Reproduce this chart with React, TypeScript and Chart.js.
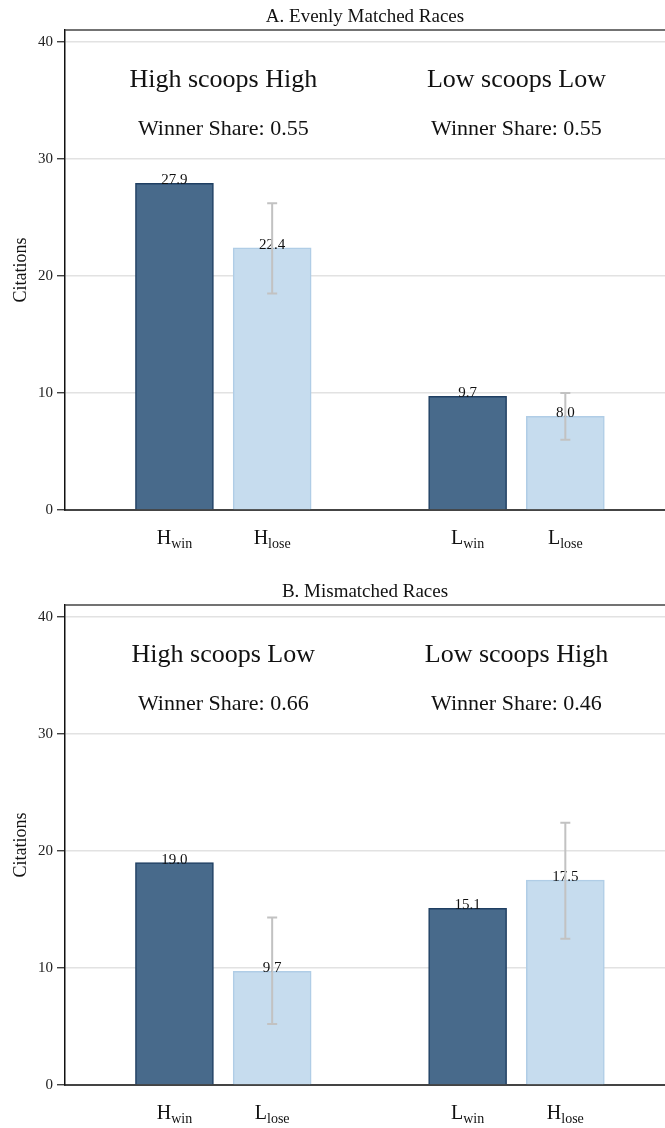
import React, { useEffect, useRef } from "react";
import { Chart, registerables } from "chart.js";

Chart.register(...registerables);

const FONT = '"Liberation Serif", "Times New Roman", Times, serif';

// Bar slots along the x axis: two bars per race type, with a gap between races
const barPositions = [1, 2, 4, 5];
const xMin = -0.12;
const xMax = 6.02;
const yMax = 41;
const yTicks = [0, 10, 20, 30, 40];
const barRoles = ["win", "lose", "win", "lose"];

// Panel A: evenly matched races
const panelATitle = "A. Evenly Matched Races";
const panelALabels = [["H", "win"], ["H", "lose"], ["L", "win"], ["L", "lose"]];
const panelAValues = [27.9, 22.4, 9.7, 8.0];
const panelALow = [null, 18.5, null, 6.0];
const panelAHigh = [null, 26.2, null, 10.0];
const panelAGroups = ["High scoops High", "Low scoops Low"];
const panelAShares = ["0.55", "0.55"];

// Panel B: mismatched races
const panelBTitle = "B. Mismatched Races";
const panelBLabels = [["H", "win"], ["L", "lose"], ["L", "win"], ["H", "lose"]];
const panelBValues = [19.0, 9.7, 15.1, 17.5];
const panelBLow = [null, 5.2, null, 12.5];
const panelBHigh = [null, 14.3, null, 22.4];
const panelBGroups = ["High scoops Low", "Low scoops High"];
const panelBShares = ["0.66", "0.46"];

const fillColors: Record<string, string> = { win: "#486a8b", lose: "#c6dcee" };
const edgeColors: Record<string, string> = { win: "#1f3f62", lose: "#b0cde6" };

type PanelProps = {
  title: string;
  labels: string[][];
  values: number[];
  low: (number | null)[];
  high: (number | null)[];
  groups: string[];
  shares: string[];
  height: number;
  axisHeight: number;
};

function makeOverlay(p: PanelProps) {
  return {
    id: "panelOverlay",
    afterDraw(chart: any) {
      const { ctx, chartArea } = chart;
      const xs = chart.scales.x;
      const ys = chart.scales.y;
      const { left, right, top, bottom } = chartArea;
      ctx.save();

      // panel title
      ctx.fillStyle = "#111";
      ctx.textAlign = "center";
      ctx.textBaseline = "alphabetic";
      ctx.font = `19px ${FONT}`;
      ctx.fillText(p.title, (left + right) / 2, top - 8);

      // top frame
      ctx.strokeStyle = "#444";
      ctx.lineWidth = 1.5;
      ctx.beginPath();
      ctx.moveTo(left, top);
      ctx.lineTo(right, top);
      ctx.stroke();

      // race headings and winner shares
      p.groups.forEach((g, gi) => {
        const cx = xs.getPixelForValue((barPositions[gi * 2] + barPositions[gi * 2 + 1]) / 2);
        ctx.fillStyle = "#111";
        ctx.font = `26px ${FONT}`;
        ctx.fillText(g, cx, top + 56.5);
        ctx.font = `22px ${FONT}`;
        ctx.fillText(`Winner Share: ${p.shares[gi]}`, cx, top + 104.5);
      });

      // value labels on top of bars
      ctx.font = `15px ${FONT}`;
      ctx.fillStyle = "#111";
      p.values.forEach((v, i) => {
        const x = xs.getPixelForValue(barPositions[i]);
        const y = ys.getPixelForValue(v);
        ctx.fillText(v.toFixed(1), x, y + 1);
      });

      // confidence intervals for the losing bars
      ctx.strokeStyle = "#c2c2c2";
      ctx.lineWidth = 2;
      p.values.forEach((_, i) => {
        const lo = p.low[i];
        const hi = p.high[i];
        if (lo == null || hi == null) return;
        const x = xs.getPixelForValue(barPositions[i]);
        const yl = ys.getPixelForValue(lo);
        const yh = ys.getPixelForValue(hi);
        ctx.beginPath();
        ctx.moveTo(x, yl);
        ctx.lineTo(x, yh);
        ctx.moveTo(x - 5, yl);
        ctx.lineTo(x + 5, yl);
        ctx.moveTo(x - 5, yh);
        ctx.lineTo(x + 5, yh);
        ctx.stroke();
      });

      // category labels with subscripts
      ctx.fillStyle = "#111";
      ctx.textAlign = "left";
      p.labels.forEach(([main, sub], i) => {
        const cx = xs.getPixelForValue(barPositions[i]);
        ctx.font = `20px ${FONT}`;
        const wm = ctx.measureText(main).width;
        ctx.font = `14px ${FONT}`;
        const ws = ctx.measureText(sub).width;
        const x0 = cx - (wm + ws) / 2;
        ctx.font = `20px ${FONT}`;
        ctx.fillText(main, x0, bottom + 34);
        ctx.font = `14px ${FONT}`;
        ctx.fillText(sub, x0 + wm, bottom + 38);
      });

      ctx.restore();
    },
  };
}

function Panel(p: PanelProps) {
  const ref = useRef<HTMLCanvasElement | null>(null);

  useEffect(() => {
    if (!ref.current) return;
    const chart = new Chart(ref.current, {
      type: "bar",
      data: {
        datasets: [
          {
            data: barPositions.map((x, i) => ({ x, y: p.values[i] })),
            backgroundColor: barRoles.map((r) => fillColors[r]),
            borderColor: barRoles.map((r) => edgeColors[r]),
            borderWidth: 1.5,
            barThickness: 78,
          },
        ],
      },
      options: {
        responsive: false,
        animation: false,
        devicePixelRatio: 1,
        layout: { padding: { top: 30, right: 0, left: 0, bottom: 0 } },
        plugins: {
          legend: { display: false },
          tooltip: { enabled: false },
          title: { display: false },
        },
        scales: {
          x: {
            type: "linear",
            min: xMin,
            max: xMax,
            offset: false,
            afterFit: (s: any) => {
              s.height = p.axisHeight;
            },
            ticks: { display: false },
            grid: { display: false, offset: false },
            border: { display: true, color: "#444", width: 2 },
          },
          y: {
            min: 0,
            max: yMax,
            afterFit: (s: any) => {
              s.width = 65;
            },
            afterBuildTicks: (s: any) => {
              s.ticks = yTicks.map((v) => ({ value: v }));
            },
            ticks: {
              font: { family: FONT, size: 15 },
              color: "#222",
              padding: 4,
            },
            grid: {
              color: (c: any) => (c.tick && c.tick.value === 0 ? "rgba(0,0,0,0)" : "#e2e2e2"),
              lineWidth: 1.5,
              tickLength: 8,
              tickColor: "#222",
              tickWidth: 1.2,
            },
            border: { display: true, color: "#111", width: 1.5 },
            title: {
              display: true,
              text: "Citations",
              font: { family: FONT, size: 18 },
              color: "#111",
              padding: { top: 10, bottom: 0 },
            },
          },
        },
      } as any,
      plugins: [makeOverlay(p)],
    });
    return () => chart.destroy();
  }, []);

  return <canvas ref={ref} width={665} height={p.height} style={{ display: "block" }} />;
}

export default function App() {
  return (
    <div style={{ position: "absolute", left: 0, top: 0, width: 665, height: 1128, background: "#fff" }}>
      <Panel
        title={panelATitle}
        labels={panelALabels}
        values={panelAValues}
        low={panelALow}
        high={panelAHigh}
        groups={panelAGroups}
        shares={panelAShares}
        height={575}
        axisHeight={65}
      />
      <Panel
        title={panelBTitle}
        labels={panelBLabels}
        values={panelBValues}
        low={panelBLow}
        high={panelBHigh}
        groups={panelBGroups}
        shares={panelBShares}
        height={553}
        axisHeight={43}
      />
    </div>
  );
}
